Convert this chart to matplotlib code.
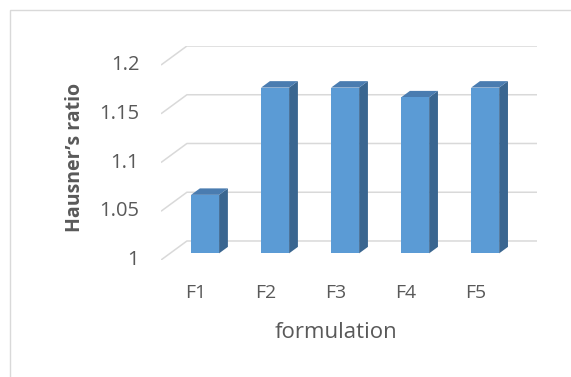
import numpy as np
import matplotlib
matplotlib.use("Agg")
import matplotlib.pyplot as plt
from matplotlib.patches import Polygon, Rectangle

plt.rcParams['font.family'] = ['Open Sans', 'DejaVu Sans']

# data
categories = ["F1", "F2", "F3", "F4", "F5"]
hausner = [1.06, 1.17, 1.17, 1.16, 1.17]
yticks = [1, 1.05, 1.1, 1.15, 1.2]

# 3d look (in data units)
dx = 0.37      # depth shift along x
dy = 0.0195    # depth shift along y
bw = 0.4       # bar width
d0, d1 = 0.35, 0.69   # bar front / back depth fraction

front_c = "#5b9bd5"
top_c = "#4a7cb0"
side_c = "#3a6690"
grid_c = "#d9d9d9"
txt_c = "#595959"

fig = plt.figure(figsize=(5.71, 3.77), dpi=100)
fig.patches.append(Rectangle((10 / 571, -0.1), 1.2, 367 / 377 + 0.1, transform=fig.transFigure,
                             fill=False, edgecolor="#d9d9d9", linewidth=1))

ax = fig.add_axes([161 / 571, 117 / 377, 376 / 571, 214 / 377])
ax.set_xlim(-0.5, 4.5 + dx)
ax.set_ylim(1, 1.2 + dy)
ax.axis("off")

n = len(categories)
for v in yticks:
    ax.plot([-0.5, -0.5 + dx, n - 0.5 + dx], [v, v + dy, v + dy], color=grid_c, lw=1.1,
            solid_capstyle="butt", zorder=1)
    ax.text(-0.5 - 0.31, v, f"{v:g}", ha="right", va="center", fontsize=14.5, color=txt_c)

x = np.arange(n)
for xi, v in zip(x, hausner):
    l = xi - bw / 2 + d0 * dx
    r = xi + bw / 2 + d0 * dx
    b = 1 + d0 * dy
    t = v + d0 * dy
    ex = (d1 - d0) * dx
    ey = (d1 - d0) * dy
    ax.add_patch(Polygon([[r, b], [r + ex, b + ey], [r + ex, t + ey], [r, t]], closed=True,
                         facecolor=side_c, edgecolor="none", zorder=3))
    ax.add_patch(Polygon([[l, t], [l + ex, t + ey], [r + ex, t + ey], [r, t]], closed=True,
                         facecolor=top_c, edgecolor="none", zorder=3))
    ax.add_patch(Rectangle((l, b), r - l, t - b, facecolor=front_c, edgecolor="none", zorder=4))

for xi, c in zip(x, categories):
    ax.text(xi, 1 - 0.034, c, ha="center", va="center", fontsize=14, color=txt_c)

ax.text(2, 1 - 0.074, "formulation", ha="center", va="center", fontsize=16, color=txt_c)
fig.text(75 / 571, 1 - 157 / 377, "Hausner\u2019s ratio", rotation=90, ha="center", va="center",
         fontsize=14, fontweight="bold", color=txt_c)

fig.savefig("out.png", dpi=100)
